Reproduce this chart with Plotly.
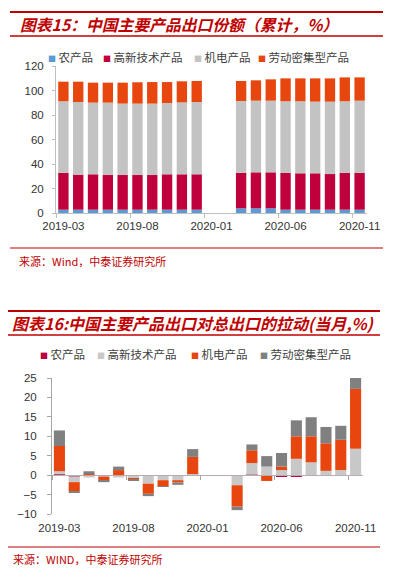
import plotly.graph_objects as go

# ---------------- data ----------------
months = ["2019-03", "2019-04", "2019-05", "2019-06", "2019-07", "2019-08", "2019-09",
          "2019-10", "2019-11", "2019-12", "2020-01", "2020-02", "2020-03", "2020-04",
          "2020-05", "2020-06", "2020-07", "2020-08", "2020-09", "2020-10", "2020-11"]
tick_labels = ["2019-03", "2019-08", "2020-01", "2020-06", "2020-11"]
series_names = ["农产品", "高新技术产品", "机电产品", "劳动密集型产品"]

# Chart 15: cumulative export share (%)
share_agri = [2.7, 2.7, 2.7, 2.7, 2.7, 2.7, 2.7, 2.7, 2.7, 2.7, None, None,
              3.8, 3.8, 3.8, 2.7, 2.7, 2.7, 2.7, 2.7, 2.7]
share_hightech = [30.0, 28.6, 28.9, 28.3, 28.3, 28.3, 28.3, 28.9, 28.9, 28.9, None, None,
                  28.9, 29.4, 29.4, 30.0, 29.7, 29.7, 29.1, 30.0, 30.0]
share_mech = [58.5, 59.3, 58.5, 59.1, 58.3, 58.3, 58.3, 58.2, 58.7, 59.0, None, None,
              58.7, 58.5, 58.5, 58.5, 58.8, 58.5, 59.1, 58.5, 59.0]
share_labor = [16.0, 16.6, 16.3, 16.3, 17.1, 17.4, 17.6, 17.1, 17.2, 17.2, None, None,
               16.4, 16.6, 17.4, 18.7, 18.7, 19.0, 19.0, 19.5, 19.0]

# Chart 16: contribution to total export growth (monthly, %)
pull_agri = [0.2, -0.3, -0.1, -0.1, -0.1, -0.1, -0.1, -0.1, -0.1, 0.1, None, None,
             -0.1, 0.1, -0.1, -0.3, -0.3, -0.2, -0.2, -0.2, -0.2]
pull_hightech = [0.8, -1.5, -0.5, -0.3, -0.5, -0.7, -2.1, -1.2, -1.2, 0.2, None, None,
                 -2.5, 3.0, 2.2, 1.3, 4.2, 3.3, 1.1, 1.3, 6.8]
pull_mech = [6.5, -2.3, 0.3, -1.1, 1.3, -0.4, -2.6, -1.6, -0.6, 4.4, None, None,
             -5.5, 3.3, -1.4, 0.9, 5.8, 6.7, 7.1, 7.8, 15.4]
pull_labor = [4.0, -0.5, 0.7, -0.3, 0.9, -0.3, -0.6, -0.1, -0.6, 2.0, None, None,
              -0.9, 1.5, 2.7, 3.5, 4.1, 4.9, 4.2, 3.6, 3.1]

# ---------------- style ----------------
OFF = 8                 # default page margin around the plot div
W, H = 395 - OFF, 570 - OFF
RED = "#C00000"
c1_colors = ["#5B9BD5", "#C0003C", "#C3C3C3", "#E8460F"]
c2_colors = ["#C0003C", "#C8C8C8", "#E8460F", "#808080"]
TICK_FONT = dict(family="Liberation Sans, Arial", size=11.5, color="#333333")
CJK = "Noto Sans CJK SC"

x_idx = list(range(len(months)))
tickvals = [months.index(t) for t in tick_labels]
boundaries = [v - 0.5 for v in tickvals]


def px_x(p):
    return (p - OFF) / W


def px_y(p):
    return 1 - (p - OFF) / H


fig = go.Figure()

for name, vals, col in zip(series_names,
                           [share_agri, share_hightech, share_mech, share_labor],
                           c1_colors):
    fig.add_trace(go.Bar(x=x_idx, y=vals, name=name, marker_color=col,
                         marker_line_width=0, width=0.7, xaxis="x", yaxis="y",
                         showlegend=False))

for name, vals, col in zip(series_names,
                           [pull_agri, pull_hightech, pull_mech, pull_labor],
                           c2_colors):
    fig.add_trace(go.Bar(x=x_idx, y=vals, name=name, marker_color=col,
                         marker_line_width=0, width=0.75, xaxis="x2", yaxis="y2",
                         showlegend=False))

# axis domains
y1_dom = [px_y(213), px_y(66)]
y2_dom = [px_y(514), px_y(378)]
y2_range = [-10, 25]
zero_pos = y2_dom[0] + (0 - y2_range[0]) / (y2_range[1] - y2_range[0]) * (y2_dom[1] - y2_dom[0])

fig.update_layout(
    template="none",
    width=W, height=H,
    autosize=False,
    margin=dict(l=0, r=0, t=0, b=0, pad=0, autoexpand=False),
    paper_bgcolor="white", plot_bgcolor="white",
    barmode="relative",
    showlegend=False,
    xaxis=dict(domain=[px_x(56), px_x(367)], range=[-0.5, len(months) - 0.5],
               anchor="y", tickmode="array", tickvals=tickvals, ticktext=tick_labels,
               ticks="", showline=True, linecolor="#BFBFBF", linewidth=1,
               showgrid=False, zeroline=False, tickfont=TICK_FONT, automargin=False,
               ticklabelstandoff=2,
               minor=dict(tickmode="array", tickvals=boundaries, ticks="outside",
                          ticklen=4, tickcolor="#BFBFBF", showgrid=False)),
    yaxis=dict(domain=y1_dom, range=[0, 120], dtick=20, anchor="x",
               ticks="outside", ticklen=3, tickcolor="#BFBFBF",
               showline=True, linecolor="#BFBFBF", linewidth=1,
               showgrid=False, zeroline=False, tickfont=TICK_FONT,
               ticklabelstandoff=6, automargin=False),
    xaxis2=dict(domain=[px_x(52), px_x(363)], range=[-0.5, len(months) - 0.5],
                anchor="free", position=zero_pos,
                tickmode="array", tickvals=tickvals, ticktext=tick_labels,
                ticks="", showline=True, linecolor="#B8AEB2", linewidth=1,
                showgrid=False, zeroline=False, tickfont=TICK_FONT,
                ticklabelstandoff=42, automargin=False,
                minor=dict(tickmode="array", tickvals=boundaries, ticks="outside",
                           ticklen=4, tickcolor="#A6A6A6", showgrid=False)),
    yaxis2=dict(domain=y2_dom, range=y2_range, dtick=5, anchor="x2",
                ticks="outside", ticklen=4, tickcolor="#A6A6A6",
                showline=True, linecolor="#A6A6A6", linewidth=1,
                showgrid=False, zeroline=False, tickfont=TICK_FONT,
                ticklabelstandoff=8, automargin=False),
)

# ---------------- decoration: red rules ----------------
shapes = []
for y, x0, x1, w in [(12, 10, 383, 2), (36, 10, 383, 1.5), (248, 10, 383, 1.2),
                     (311, 8, 380, 2), (335, 8, 380, 1.5), (547, 8, 380, 1.2)]:
    shapes.append(dict(type="line", xref="paper", yref="paper",
                       x0=px_x(x0), x1=px_x(x1), y0=px_y(y), y1=px_y(y),
                       line=dict(color=RED, width=w)))
fig.update_layout(shapes=shapes)

# ---------------- titles, sources, legends ----------------
ann = []
ann.append(dict(text="<b><i>图表15：中国主要产品出口份额（累计，%）</i></b>",
                x=px_x(18), y=px_y(25), xanchor="left", yanchor="middle",
                font=dict(family=CJK, size=15.8, color=RED)))
ann.append(dict(text="<b><i>图表16:中国主要产品出口对总出口的拉动(当月,%)</i></b>",
                x=px_x(10), y=px_y(323), xanchor="left", yanchor="middle",
                font=dict(family=CJK, size=16, color=RED)))
ann.append(dict(text="来源：Wind，中泰证券研究所",
                x=px_x(17), y=px_y(261), xanchor="left", yanchor="middle",
                font=dict(family=CJK, size=11, color=RED)))
ann.append(dict(text="来源：WIND，中泰证券研究所",
                x=px_x(11), y=px_y(559), xanchor="left", yanchor="middle",
                font=dict(family=CJK, size=11, color=RED)))

leg1_x = [47, 102, 193, 257]
leg2_x = [39, 96, 190, 259]
for names_x, colors, yy in [(leg1_x, c1_colors, 57), (leg2_x, c2_colors, 354)]:
    for name, col, xx in zip(series_names, colors, names_x):
        ann.append(dict(text=f'<span style="color:{col};font-size:8px">■</span> {name}',
                        x=px_x(xx), y=px_y(yy), xanchor="left", yanchor="middle",
                        borderpad=0,
                        font=dict(family=CJK, size=11.5, color="#404040")))

for a in ann:
    a.update(xref="paper", yref="paper", showarrow=False)
fig.update_layout(annotations=ann)

fig.write_html("out.html")
